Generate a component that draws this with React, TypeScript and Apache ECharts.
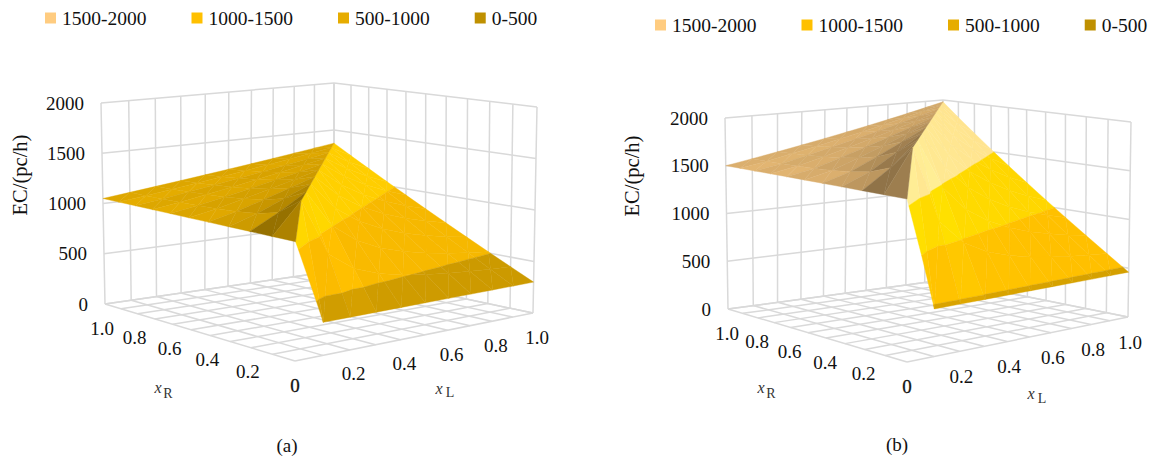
import React, { useEffect, useRef } from "react";
import * as echarts from "echarts";

const bandNames = ["1500-2000", "1000-1500", "500-1000", "0-500"];
const bandColors = ["#FFCC80", "#FFC000", "#E6AC00", "#BF9000"];
const bandRanges = [[1500, 2000], [1000, 1500], [500, 1000], [0, 500]];
const zTicks = [0, 500, 1000, 1500, 2000];
const gridTicks = [0, 0.1, 0.2, 0.3, 0.4, 0.5, 0.6, 0.7, 0.8, 0.9, 1];
const xTickValues = [0, 0.2, 0.4, 0.6, 0.8, 1];
const xTickLabels = ["0", "0.2", "0.4", "0.6", "0.8", "1.0"];
const panelLetters = ["(a)", "(b)"];

// rows: xR = 0 ... 1.0, columns: xL = 0 ... 1.0
const surfaceA = [
  [1075, 300, 300, 300, 300, 300, 300, 300, 300, 300, 300],
  [1072, 1360, 830, 653, 565, 512, 477, 451, 433, 418, 406],
  [1070, 1205, 1360, 1007, 830, 724, 653, 603, 565, 536, 512],
  [1067, 1153, 1257, 1360, 1095, 936, 830, 754, 698, 653, 618],
  [1065, 1128, 1205, 1283, 1360, 1148, 1007, 906, 830, 771, 724],
  [1062, 1112, 1174, 1236, 1298, 1360, 1183, 1057, 963, 889, 830],
  [1060, 1102, 1153, 1205, 1257, 1308, 1360, 1209, 1095, 1007, 936],
  [1057, 1094, 1139, 1183, 1227, 1271, 1316, 1360, 1228, 1124, 1042],
  [1055, 1089, 1128, 1166, 1205, 1244, 1283, 1321, 1360, 1242, 1148],
  [1052, 1084, 1119, 1153, 1188, 1222, 1257, 1291, 1326, 1360, 1254],
  [1050, 1081, 1112, 1143, 1174, 1205, 1236, 1267, 1298, 1329, 1360],
];
const surfaceB = [
  [1567, 460, 460, 460, 460, 460, 460, 460, 460, 460, 460],
  [1560, 1980, 1220, 967, 840, 764, 713, 677, 650, 629, 612],
  [1553, 1740, 1980, 1473, 1220, 1068, 967, 894, 840, 798, 764],
  [1547, 1660, 1820, 1980, 1600, 1372, 1220, 1111, 1030, 967, 916],
  [1540, 1620, 1740, 1860, 1980, 1676, 1473, 1329, 1220, 1136, 1068],
  [1533, 1596, 1692, 1788, 1884, 1980, 1727, 1546, 1410, 1304, 1220],
  [1527, 1580, 1660, 1740, 1820, 1900, 1980, 1763, 1600, 1473, 1372],
  [1520, 1569, 1637, 1706, 1774, 1843, 1911, 1980, 1790, 1642, 1524],
  [1513, 1560, 1620, 1680, 1740, 1800, 1860, 1920, 1980, 1811, 1676],
  [1507, 1553, 1607, 1660, 1713, 1767, 1820, 1873, 1927, 1980, 1828],
  [1500, 1548, 1596, 1644, 1692, 1740, 1788, 1836, 1884, 1932, 1980],
];

type Pt = [number, number];
// Box corners on screen, order: front, right, back, left
const panels = [
  {
    floor: [[295, 361], [533, 313], [334, 271], [105, 304]] as Pt[],
    top: [[296, 139], [537, 107], [334, 83], [101, 103]] as Pt[],
    surface: surfaceA, lit: 1.06, legendLeft: 45, legendTop: 8,
    zOff: -17, rOff: [-3, 24] as Pt, lOff: [4, 24] as Pt,
    title: [20, 175] as Pt, letter: [287, 445] as Pt,
    xr: [[158, 387], [168, 393]] as Pt[], xl: [[439, 388], [450, 392]] as Pt[],
  },
  {
    floor: [[907, 362], [1128, 317], [943, 280], [728, 309]] as Pt[],
    top: [[907, 154], [1131, 122], [943, 100], [725, 118]] as Pt[],
    surface: surfaceB, lit: 1.1, legendLeft: 655, legendTop: 15,
    zOff: -17, rOff: [-1, 24] as Pt, lOff: [2, 25] as Pt,
    title: [632, 176] as Pt, letter: [897, 444] as Pt,
    xr: [[761, 387], [771, 393]] as Pt[], xl: [[1031, 393], [1042, 398]] as Pt[],
  },
];

function quadMap(q: Pt[]) {
  const [[x0, y0], [x1, y1], [x2, y2], [x3, y3]] = q;
  const sx = x0 - x1 + x2 - x3, sy = y0 - y1 + y2 - y3;
  const dx1 = x1 - x2, dx2 = x3 - x2, dy1 = y1 - y2, dy2 = y3 - y2;
  const den = dx1 * dy2 - dx2 * dy1;
  const g = (sx * dy2 - dx2 * sy) / den, h = (dx1 * sy - sx * dy1) / den;
  const a = x1 - x0 + g * x1, b = x3 - x0 + h * x3, d = y1 - y0 + g * y1, e = y3 - y0 + h * y3;
  return (u: number, v: number): Pt => {
    const w = g * u + h * v + 1;
    return [(a * u + b * v + x0) / w, (d * u + e * v + y0) / w];
  };
}
const floorMaps = panels.map((p) => quadMap(p.floor));
const topMaps = panels.map((p) => quadMap(p.top));
function project(pi: number, xL: number, xR: number, z: number): Pt {
  const f = floorMaps[pi](xL, xR), t = topMaps[pi](xL, xR), k = z / 2000;
  return [f[0] + (t[0] - f[0]) * k, f[1] + (t[1] - f[1]) * k];
}

type V3 = [number, number, number];
function clipBand(poly: V3[], lo: number, hi: number): V3[] {
  const clip = (pts: V3[], keep: (z: number) => boolean, lim: number) => {
    const out: V3[] = [];
    pts.forEach((a, i) => {
      const b = pts[(i + 1) % pts.length];
      const ka = keep(a[2]), kb = keep(b[2]);
      if (ka) out.push(a);
      if (ka !== kb) {
        const t = (lim - a[2]) / (b[2] - a[2]);
        out.push([a[0] + (b[0] - a[0]) * t, a[1] + (b[1] - a[1]) * t, lim]);
      }
    });
    return out;
  };
  const p1 = clip(poly, (z) => z >= lo, lo);
  return p1.length ? clip(p1, (z) => z <= hi, hi) : [];
}
function shadeColor(hex: string, f: number) {
  const n = parseInt(hex.slice(1), 16);
  const c = [(n >> 16) & 255, (n >> 8) & 255, n & 255].map((v) => Math.min(255, Math.round(v * f)));
  return `rgb(${c[0]},${c[1]},${c[2]})`;
}
const Z_SCALE = 0.9 / 2000;
function triGradient(t: V3[]): Pt {
  const ux = t[1][0] - t[0][0], uy = t[1][1] - t[0][1], uz = (t[1][2] - t[0][2]) * Z_SCALE;
  const vx = t[2][0] - t[0][0], vy = t[2][1] - t[0][1], vz = (t[2][2] - t[0][2]) * Z_SCALE;
  const nx = uy * vz - uz * vy, ny = uz * vx - ux * vz, nz = ux * vy - uy * vx;
  return [-nx / nz, -ny / nz];
}
function brightness(gx: number, gy: number, lit: number) {
  const nx = -gx, ny = -gy;
  const len = Math.hypot(nx, ny, 1);
  const s = (nx - ny) / len;
  if (s < 0) {
    const a = -s;
    return Math.max(0.58, 0.91 - 0.15 * a - 0.22 * a * a * a);
  }
  return lit + 0.07 * (1 - 1 / len);
}

type Frag = { pi: number; pts: V3[]; fill: string };
function buildFragments(pi: number): Frag[] {
  const zs = panels[pi].surface;
  const cells: { depth: number; tri: V3[]; f: number }[] = [];
  const lit = panels[pi].lit;
  for (let j = 0; j < zs.length - 1; j++) {
    for (let i = 0; i < zs[j].length - 1; i++) {
      const P = (a: number, b: number): V3 => [gridTicks[a], gridTicks[b], zs[b][a]];
      const A = P(i, j), B = P(i + 1, j), C = P(i + 1, j + 1), D = P(i, j + 1);
      let f1: number, f2: number;
      if (i === j) {
        const g1 = triGradient([A, B, C]), g2 = triGradient([A, C, D]);
        f1 = brightness(g1[0], g1[1], lit);
        f2 = brightness(g2[0], g2[1], lit);
      } else {
        const h = gridTicks[i + 1] - gridTicks[i];
        const gx = ((B[2] + C[2] - A[2] - D[2]) / (2 * h)) * Z_SCALE;
        const gy = ((C[2] + D[2] - A[2] - B[2]) / (2 * h)) * Z_SCALE;
        // faint facet strips, as the reference's shading leaves on the fan
        const strip = i > j
          ? (i % 2 ? -1 : 1) * 0.03 * Math.max(0, 1 - i / 4)
          : (j % 2 ? -1 : 1) * 0.015;
        f1 = f2 = brightness(gx, gy, lit) + strip;
      }
      cells.push({ depth: i + j + 0.1, tri: [A, B, C], f: f1 });
      cells.push({ depth: i + j, tri: [A, C, D], f: f2 });
    }
  }
  cells.sort((a, b) => b.depth - a.depth);
  const out: Frag[] = [];
  cells.forEach((c) => {
    bandRanges.forEach((r, bi) => {
      const pts = clipBand(c.tri, r[0], r[1]);
      if (pts.length >= 3) out.push({ pi, pts, fill: shadeColor(bandColors[bi], c.f) });
    });
  });
  return out;
}
const fragments = panels.flatMap((_, pi) => buildFragments(pi));

type Seg = { pi: number; a: V3; b: V3 };
function buildGrid(pi: number): Seg[] {
  const segs: Seg[] = [];
  gridTicks.forEach((t) => {
    segs.push({ pi, a: [t, 0, 0], b: [t, 1, 0] });
    segs.push({ pi, a: [0, t, 0], b: [1, t, 0] });
    segs.push({ pi, a: [t, 1, 0], b: [t, 1, 2000] });
    segs.push({ pi, a: [1, t, 0], b: [1, t, 2000] });
  });
  zTicks.forEach((z) => {
    segs.push({ pi, a: [0, 1, z], b: [1, 1, z] });
    segs.push({ pi, a: [1, 0, z], b: [1, 1, z] });
  });
  return segs;
}
const gridSegs = panels.flatMap((_, pi) => buildGrid(pi));

type Lab = { text: string; x: number; y: number; align: string; heavy?: boolean };
const tickLabels: Lab[] = [];
panels.forEach((p, pi) => {
  zTicks.forEach((z) => {
    const q = project(pi, 0, 1, z);
    tickLabels.push({ text: String(z), x: q[0] + p.zOff, y: q[1], align: "right" });
  });
  xTickValues.forEach((v, k) => {
    const r = project(pi, 0, v, 0);
    if (v === 0) {
      // both horizontal axes share this one zero, so it reads heavier in the reference
      tickLabels.push({ text: xTickLabels[k], x: r[0], y: r[1] + 24, align: "center", heavy: true });
      return;
    }
    tickLabels.push({ text: xTickLabels[k], x: r[0] + p.rOff[0], y: r[1] + p.rOff[1], align: "center" });
    const l = project(pi, v, 0, 0);
    tickLabels.push({ text: xTickLabels[k], x: l[0] + p.lOff[0], y: l[1] + p.lOff[1], align: "center" });
  });
});

const SERIF = "'Liberation Serif', 'Times New Roman', serif";

function buildOption() {
  const axisText = (x: number, y: number, text: string, style: string, size: number) => ({
    type: "text", x, y, silent: true,
    style: { text, font: `${style} ${size}px ${SERIF}`, fill: "#333", textAlign: "center", textVerticalAlign: "middle" },
  });
  const graphicEls: any[] = [];
  panels.forEach((p, pi) => {
    graphicEls.push({
      type: "text", x: p.title[0], y: p.title[1], rotation: Math.PI / 2, silent: true,
      style: { text: "EC/(pc/h)", font: `20.5px ${SERIF}`, fill: "#111", textAlign: "center", textVerticalAlign: "middle" },
    });
    graphicEls.push({
      type: "text", x: p.letter[0], y: p.letter[1], silent: true,
      style: { text: panelLetters[pi], font: `19px ${SERIF}`, fill: "#111", textAlign: "center", textVerticalAlign: "middle" },
    });
    graphicEls.push(axisText(p.xr[0][0], p.xr[0][1], "x", "italic", 16));
    graphicEls.push(axisText(p.xr[1][0], p.xr[1][1], "R", "normal", 14));
    graphicEls.push(axisText(p.xl[0][0], p.xl[0][1], "x", "italic", 16));
    graphicEls.push(axisText(p.xl[1][0], p.xl[1][1], "L", "normal", 14));
  });
  const legendBase = {
    data: bandNames, orient: "horizontal", icon: "rect", itemWidth: 11, itemHeight: 11, itemGap: 45,
    padding: 0, selectedMode: false, textStyle: { fontFamily: SERIF, fontSize: 19.5, color: "#111", padding: [0, 0, 0, 1] },
  };
  return {
    animation: false,
    backgroundColor: "#fff",
    grid: { left: 0, right: 0, top: 0, bottom: 0 },
    xAxis: { type: "value", min: 0, max: 1155, show: false },
    yAxis: { type: "value", min: 0, max: 459, inverse: true, show: false },
    legend: panels.map((p) => ({ ...legendBase, left: p.legendLeft, top: p.legendTop })),
    graphic: { elements: graphicEls },
    series: [
      ...bandNames.map((name, i) => ({ type: "bar", name, data: [], itemStyle: { color: bandColors[i] } })),
      {
        type: "custom", name: "grid", silent: true, clip: false, data: gridSegs.map((_, i) => [i]),
        renderItem: (_p: any, api: any) => {
          const s = gridSegs[api.value(0)];
          const a = api.coord(project(s.pi, s.a[0], s.a[1], s.a[2]));
          const b = api.coord(project(s.pi, s.b[0], s.b[1], s.b[2]));
          return {
            type: "line", shape: { x1: a[0], y1: a[1], x2: b[0], y2: b[1] },
            style: { stroke: "#D9D9D9", lineWidth: 1.5, fill: null },
          };
        },
      },
      {
        type: "custom", name: "surface", silent: true, clip: false, data: fragments.map((_, i) => [i]),
        renderItem: (_p: any, api: any) => {
          const f = fragments[api.value(0)];
          const points = f.pts.map((v) => api.coord(project(f.pi, v[0], v[1], v[2])));
          return {
            type: "polygon", shape: { points },
            style: { fill: f.fill, stroke: f.fill, lineWidth: 0.4 },
          };
        },
      },
      {
        type: "custom", name: "ticks", silent: true, clip: false, data: tickLabels.map((_, i) => [i]),
        renderItem: (_p: any, api: any) => {
          const l = tickLabels[api.value(0)];
          const c = api.coord([l.x, l.y]);
          return {
            type: "text", x: c[0], y: c[1],
            style: {
              text: l.text, font: `19px ${SERIF}`, fill: "#111",
              stroke: l.heavy ? "#111" : undefined, lineWidth: l.heavy ? 0.3 : 0,
              textAlign: l.align, textVerticalAlign: "middle", align: l.align, verticalAlign: "middle",
            },
          };
        },
      },
    ],
  };
}

export default function App() {
  const ref = useRef<HTMLDivElement>(null);
  useEffect(() => {
    const chart = echarts.init(ref.current!, undefined, { renderer: "svg" });
    chart.setOption(buildOption() as any);
    return () => chart.dispose();
  }, []);
  return <div ref={ref} style={{ position: "absolute", left: 0, top: 0, width: 1155, height: 459 }} />;
}
